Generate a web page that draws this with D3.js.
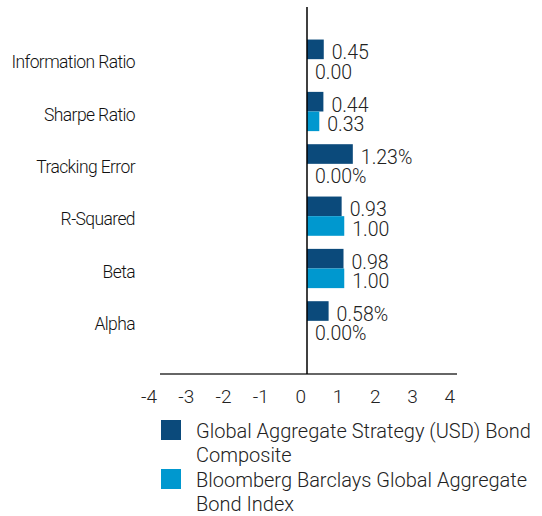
<!DOCTYPE html>
<html>
<head>
<meta charset="utf-8">
<script src="https://cdn.jsdelivr.net/npm/d3@7"></script>
<style>
  body { margin: 0; background: #fff; }
  svg text { font-family: Roboto, "Liberation Sans", sans-serif; fill: #222; }
</style>
</head>
<body>
<div id="chart"></div>
<script>
// chart data
const categories = ["Information Ratio", "Sharpe Ratio", "Tracking Error", "R-Squared", "Beta", "Alpha"];
const seriesNames = ["Global Aggregate Strategy (USD) Bond Composite", "Bloomberg Barclays Global Aggregate Bond Index"];
const compositeValues = [0.45, 0.44, 1.23, 0.93, 0.98, 0.58];
const indexValues = [0.00, 0.33, 0.00, 1.00, 1.00, 0.00];
const valueSuffix = ["", "", "%", "", "", "%"];
const xTicks = [-4, -3, -2, -1, 0, 1, 2, 3, 4];
const colors = ["#0b4a7b", "#0098cf"];

const width = 542, height = 516;

const svg = d3.select("#chart")
  .append("svg")
  .attr("width", width)
  .attr("height", height);

const x = d3.scaleLinear().domain([-4, 4]).range([158, 456]);
const y = d3.scaleBand().domain(categories).range([33, 347]).paddingInner(0.25).paddingOuter(0.125);
const ySub = d3.scaleBand().domain([0, 1]).range([0, y.bandwidth()]);

// rows of data
const rows = categories.map((c, i) => ({
  cat: c,
  vals: [compositeValues[i], indexValues[i]],
  suffix: valueSuffix[i]
}));

// bars
const groups = svg.selectAll(".grp")
  .data(rows)
  .enter()
  .append("g")
  .attr("class", "grp")
  .attr("transform", (d) => `translate(0,${y(d.cat)})`);

groups.selectAll("rect")
  .data((d) => d.vals.map((v, k) => ({ v, k })))
  .enter()
  .append("rect")
  .attr("x", (d) => x(Math.min(0, d.v)))
  .attr("y", (d) => ySub(d.k))
  .attr("width", (d) => Math.abs(x(d.v) - x(0)))
  .attr("height", ySub.bandwidth())
  .attr("fill", (d) => colors[d.k]);

// value labels
groups.selectAll("text.val")
  .data((d) => d.vals.map((v, k) => ({ v, k, s: d.suffix })))
  .enter()
  .append("text")
  .attr("class", "val")
  .attr("x", (d) => x(d.v) + 8)
  .attr("y", (d) => ySub(d.k) + ySub.bandwidth())
  .style("font-size", "19.5px")
  .style("font-weight", 300)
  .text((d) => d.v.toFixed(2) + d.s);

// category labels
svg.selectAll(".cat")
  .data(categories)
  .enter()
  .append("text")
  .attr("class", "cat")
  .attr("x", 135)
  .attr("y", (d) => y(d) + y.bandwidth() / 2 + 9)
  .attr("text-anchor", "end")
  .style("font-size", "17.5px")
  .style("font-weight", 300)
  .style("fill", "#111")
  .style("letter-spacing", "-0.6px")
  .text((d) => d);

// x axis line
svg.append("line")
  .attr("x1", x(-4) + 2).attr("x2", x(4) + 1)
  .attr("y1", 374).attr("y2", 374)
  .attr("stroke", "#333").attr("stroke-width", 1.5);

// zero line
svg.append("line")
  .attr("x1", x(0)).attr("x2", x(0))
  .attr("y1", 7).attr("y2", 374)
  .attr("stroke", "#000").attr("stroke-width", 1.5);

// tick labels
svg.selectAll(".tick")
  .data(xTicks)
  .enter()
  .append("text")
  .attr("class", "tick")
  .attr("x", (d) => x(d) - 1)
  .attr("y", 403)
  .attr("text-anchor", "end")
  .style("font-size", "19px")
  .style("font-weight", 300)
  .text((d) => d);

// legend
const legendLines = [["Global Aggregate Strategy (USD) Bond", "Composite"], ["Bloomberg Barclays Global Aggregate", "Bond Index"]];
const legend = svg.selectAll(".leg")
  .data(seriesNames)
  .enter()
  .append("g")
  .attr("class", "leg")
  .attr("transform", (d, i) => `translate(161,${420 + i * 49})`);

legend.append("rect")
  .attr("width", 20).attr("height", 20)
  .attr("fill", (d, i) => colors[i]);

legend.append("text")
  .attr("x", 35)
  .attr("y", 18)
  .style("font-size", "20px")
  .style("font-weight", 300)
  .selectAll("tspan")
  .data((d, i) => legendLines[i])
  .enter()
  .append("tspan")
  .attr("x", 35)
  .attr("dy", (d, j) => (j === 0 ? 0 : 23.5))
  .text((d) => d);
</script>
</body>
</html>
